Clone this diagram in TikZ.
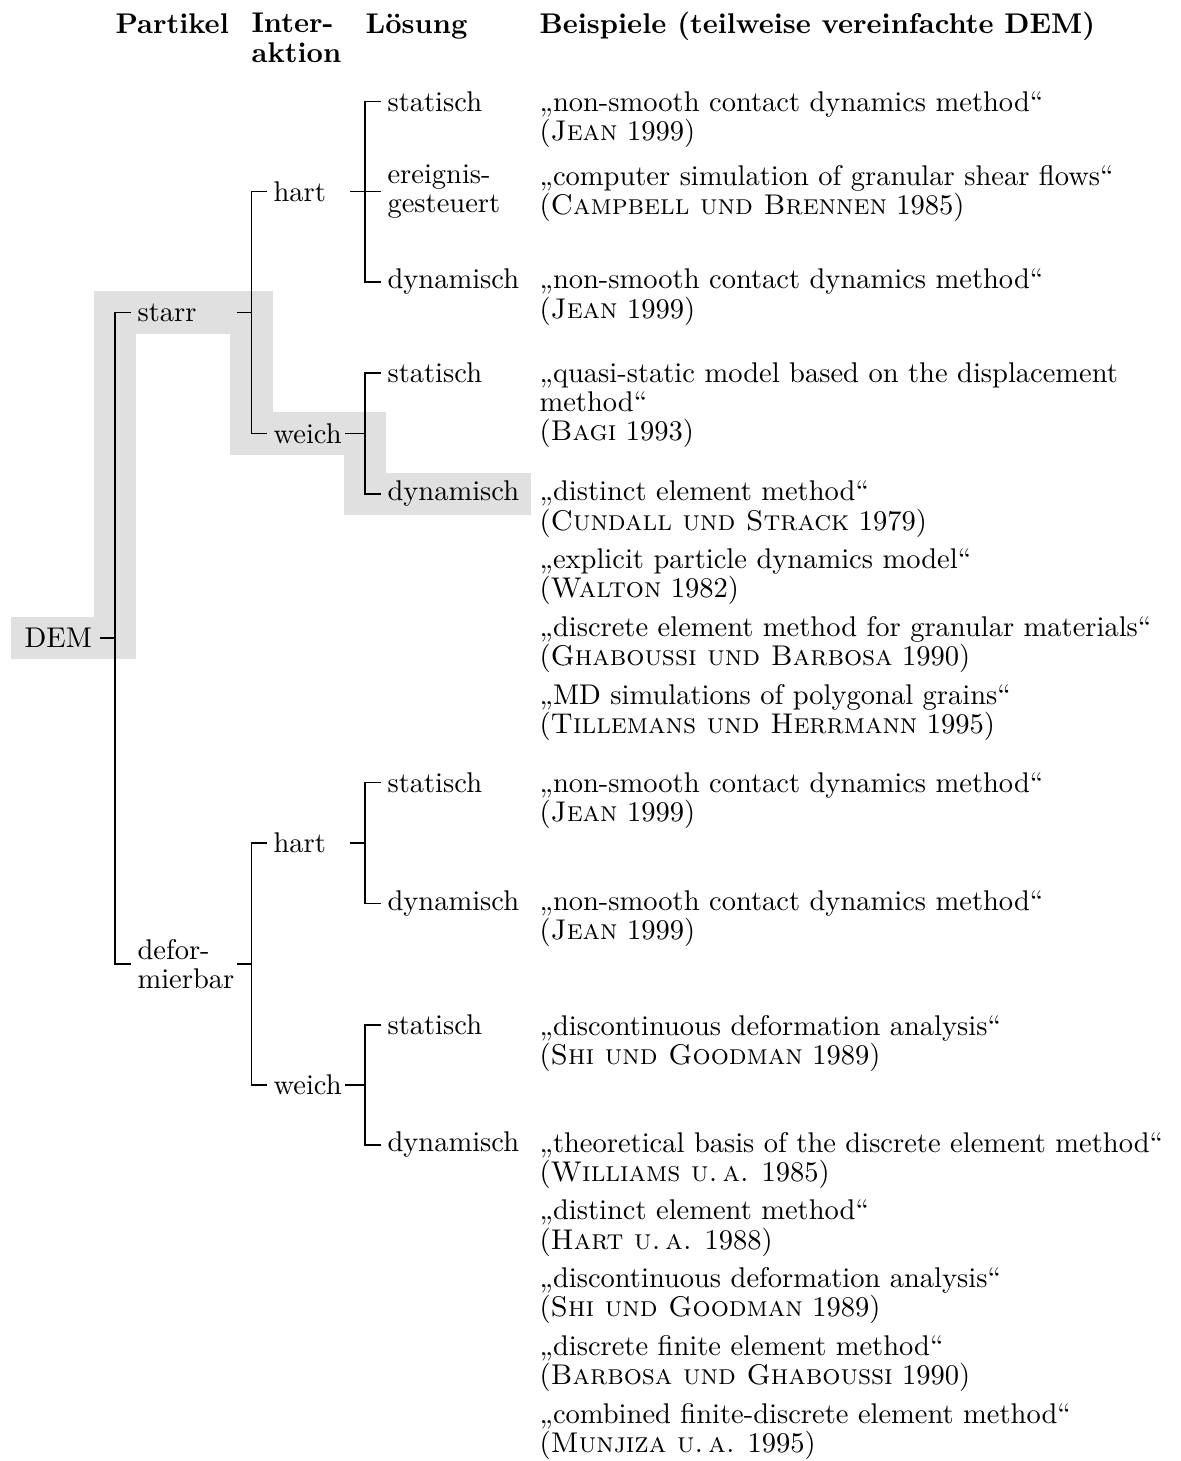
\documentclass[tikz,border=0pt]{standalone}
\usepackage{tikz}
\usetikzlibrary{positioning}
\usetikzlibrary{backgrounds}
\definecolor{hlgray}{HTML}{E0E0E0}

\begin{document}
\begin{tikzpicture}[x=0.3509pt,y=-0.3509pt,font=\fontsize{10}{10.2}\selectfont]
\useasboundingbox (0,0) rectangle (1181,1461);
\def\gap{2.2pt}
\def\pitch{23.75pt}

\tikzstyle{lbl}=[anchor=west, inner sep=0pt, align=left]
\tikzstyle{hd}=[anchor=base west, inner sep=0pt, align=left,
	font=\fontsize{10}{10.4}\selectfont\bfseries]
\tikzstyle{bsp}=[anchor=north west, inner sep=0pt, align=left]
\tikzstyle{hl}=[draw=hlgray, line width=15pt]

%% HEAD
\node[hd] (kPart) at (115,33) {Partikel};
\coordinate (ix) at (251,0);
\node[hd, anchor=north west] (kInter) at (ix |- kPart.north) {Inter-\\aktion};
\node[hd] (kLoes) at (365,33) {Lösung};
\node[hd] (kBsp) at (539,33) {Beispiele (teilweise vereinfachte DEM)};

%% TREE
\node[lbl] (dem) at (24,638) {DEM};

\node[lbl, text width=34pt] (starr) at (137,312.6) {starr};
\node[lbl, text width=34pt] (defo) at (137,964) {defor-\\mierbar};

\node[lbl, text width=26.6pt] (hart1) at (273,191.75) {hart};
\node[lbl] (weich1) at (273,433.5) {weich};
\node[lbl, text width=26.6pt] (hart2) at (273,843) {hart};
\node[lbl] (weich2) at (273,1085) {weich};

\node[lbl] (stat1) at (387,101.5) {statisch};
\node[lbl] (ereig) at (387,191.75) {ereignis-\\gesteuert};
\node[lbl] (dyn1) at (387,282) {dynamisch};
\node[lbl] (stat2) at (387,373) {statisch};
\node[lbl] (dyn2) at (387,494) {dynamisch};
\node[lbl] (stat3) at (387,782.5) {statisch};
\node[lbl] (dyn3) at (387,903.5) {dynamisch};
\node[lbl] (stat4) at (387,1025) {statisch};
\node[lbl] (dyn4) at (387,1145) {dynamisch};

% forks
\coordinate (fDem) at (115,638);
\coordinate (fStarr) at (251.5,312.6);
\coordinate (fDefo) at (251.5,964);
\coordinate (fHart1) at (365,191.75);
\coordinate (fWeich1) at (365,433.5);
\coordinate (fHart2) at (365,843);
\coordinate (fWeich2) at (365,1085);

\draw ([xshift=2.8pt]dem.east) -- (fDem);
\draw ([xshift=-\gap]starr.west) -| (fDem) |- ([xshift=-\gap]defo.west);

\draw ([xshift=0.7pt]starr.east) -- (fStarr);
\draw ([xshift=-\gap]hart1.west) -| (fStarr) |- ([xshift=-\gap]weich1.west);
\draw ([xshift=0.7pt]defo.east) -- (fDefo);
\draw ([xshift=-\gap]hart2.west) -| (fDefo) |- ([xshift=-\gap]weich2.west);

\draw (hart1.east) -- (fHart1);
\draw ([xshift=-\gap]stat1.west) -| (fHart1) |- ([xshift=-\gap]dyn1.west);
\draw (fHart1) -- ([xshift=-\gap]ereig.west);
\draw ([xshift=1pt]weich1.east) -- (fWeich1);
\draw ([xshift=-\gap]stat2.west) -| (fWeich1) |- ([xshift=-\gap]dyn2.west);
\draw (hart2.east) -- (fHart2);
\draw ([xshift=-\gap]stat3.west) -| (fHart2) |- ([xshift=-\gap]dyn3.west);
\draw ([xshift=1pt]weich2.east) -- (fWeich2);
\draw ([xshift=-\gap]stat4.west) -| (fWeich2) |- ([xshift=-\gap]dyn4.west);

%% PATH (highlight)
\begin{scope}[on background layer]
\draw[hl] ([xshift=-4.6pt]dem.west) -| (fDem |- starr.west)
	-| (fStarr |- weich1.west) -| (fWeich1 |- dyn2.west)
	-- ([xshift=3.9pt]dyn2.east);
\end{scope}

%% EXAMPLES
\coordinate (bx) at (539,0);
\node[bsp] (b1) at (bx |- stat1.north) {„non-smooth contact dynamics method“\\(\textsc{Jean} 1999)};
\node[bsp] (b2) at (bx |- ereig.north) {„computer simulation of granular shear flows“\\(\textsc{Campbell und Brennen} 1985)};
\node[bsp] (b3) at (bx |- dyn1.north) {„non-smooth contact dynamics method“\\(\textsc{Jean} 1999)};
\node[bsp] (b4) at (bx |- stat2.north) {„quasi-static model based on the displacement\\method“\\(\textsc{Bagi} 1993)};

\node[bsp] (b5) at (bx |- dyn2.north) {„distinct element method“\\(\textsc{Cundall und Strack} 1979)};
\node[bsp, below=\pitch of b5.base west, anchor=base west] (b6) {„explicit particle dynamics model“\\(\textsc{Walton} 1982)};
\node[bsp, below=\pitch of b6.base west, anchor=base west] (b7) {„discrete element method for granular materials“\\(\textsc{Ghaboussi und Barbosa} 1990)};
\node[bsp, below=\pitch of b7.base west, anchor=base west] (b8) {„MD simulations of polygonal grains“\\(\textsc{Tillemans und Herrmann} 1995)};

\node[bsp] (b9) at (bx |- stat3.north) {„non-smooth contact dynamics method“\\(\textsc{Jean} 1999)};
\node[bsp] (b10) at (bx |- dyn3.north) {„non-smooth contact dynamics method“\\(\textsc{Jean} 1999)};
\node[bsp] (b11) at (bx |- stat4.north) {„discontinuous deformation analysis“\\(\textsc{Shi und Goodman} 1989)};

\node[bsp] (b12) at (bx |- dyn4.north) {„theoretical basis of the discrete element method“\\(\textsc{Williams u.\,a.} 1985)};
\node[bsp, below=\pitch of b12.base west, anchor=base west] (b13) {„distinct element method“\\(\textsc{Hart u.\,a.} 1988)};
\node[bsp, below=\pitch of b13.base west, anchor=base west] (b14) {„discontinuous deformation analysis“\\(\textsc{Shi und Goodman} 1989)};
\node[bsp, below=\pitch of b14.base west, anchor=base west] (b15) {„discrete finite element method“\\(\textsc{Barbosa und Ghaboussi} 1990)};
\node[bsp, below=\pitch of b15.base west, anchor=base west] (b16) {„combined finite-discrete element method“\\(\textsc{Munjiza u.\,a.} 1995)};

\end{tikzpicture}
\end{document}
